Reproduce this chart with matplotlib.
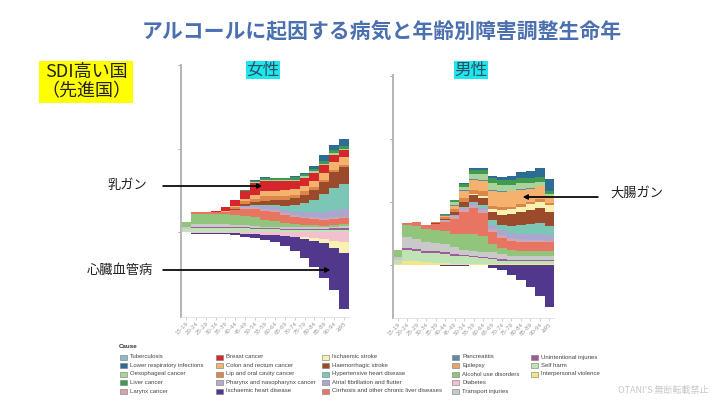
import numpy as np
import matplotlib
matplotlib.use("Agg")
import matplotlib.pyplot as plt
from matplotlib.patches import Rectangle

plt.rcParams["font.family"] = ["Noto Sans CJK JP", "DejaVu Sans"]

AGES = ["15-19", "20-24", "25-29", "30-34", "35-39", "40-44", "45-49", "50-54",
        "55-59", "60-64", "65-69", "70-74", "75-79", "80-84", "85-89", "90-94", "≥95"]

# legend order (column by column)
CAUSES = [
    "Tuberculosis", "Lower respiratory infections", "Oesophageal cancer", "Liver cancer", "Larynx cancer",
    "Breast cancer", "Colon and rectum cancer", "Lip and oral cavity cancer",
    "Pharynx and nasopharynx cancer", "Ischaemic heart disease",
    "Ischaemic stroke", "Haemorrhagic stroke", "Hypertensive heart disease",
    "Atrial fibrillation and flutter", "Cirrhosis and other chronic liver diseases",
    "Pancreatitis", "Epilepsy", "Alcohol use disorders", "Diabetes", "Transport injuries",
    "Unintentional injuries", "Self harm", "Interpersonal violence",
]
COLORS = [
    "#8fb9c9", "#2e6d93", "#a9d39a", "#3f9950", "#d9a2a7",
    "#d4262b", "#f5b26f", "#d9874b", "#b7abc9", "#51388c",
    "#f9f1b1", "#9b4a2b", "#7cc6b6", "#a9a6cf", "#e87561",
    "#5e8aa6", "#eca36b", "#90c57b", "#f2c0cf", "#c9c9c9",
    "#9c5c9c", "#c0e3b6", "#f3e58a",
]

# stacking order from the baseline upwards
POS_ORDER = ["Interpersonal violence", "Self harm", "Unintentional injuries", "Transport injuries",
             "Alcohol use disorders", "Cirrhosis and other chronic liver diseases", "Larynx cancer",
             "Pharynx and nasopharynx cancer", "Atrial fibrillation and flutter",
             "Hypertensive heart disease", "Haemorrhagic stroke", "Ischaemic stroke",
             "Lip and oral cavity cancer", "Colon and rectum cancer", "Breast cancer",
             "Pancreatitis", "Oesophageal cancer", "Liver cancer", "Lower respiratory infections"]
NEG_ORDER = ["Diabetes", "Ischaemic stroke", "Ischaemic heart disease"]

# women
w_interp = [.01, .01, .01, .01, .01, .01, .01, .01, .01, .01, .01, .01, .01, .01, .01, .01, .01]
w_selfharm = [.03, .04, .04, .04, .04, .04, .04, .03, .03, .03, .02, .02, .02, .02, .02, .02, .02]
w_unint = [0, .01, .01, .01, .01, .01, .01, .01, .01, .01, .01, .01, .01, .01, .01, .02, .02]
w_transport = [.03, .04, .04, .04, .04, .03, .03, .03, .02, .02, .02, .02, .02, .02, .02, .02, .03]
w_alcohol = [.05, .12, .12, .12, .12, .12, .11, .10, .08, .07, .05, .04, .03, .03, .02, .02, .02]
w_cirrhosis = [0, .02, .02, .02, .03, .06, .08, .10, .11, .11, .10, .09, .08, .07, .07, .07, .07]
w_larynx = [0, 0, 0, 0, 0, 0, .01, .01, .01, .01, .01, .01, .01, .01, .01, .01, .01]
w_pharynx = [0, 0, 0, 0, 0, 0, .01, .01, .01, .01, .01, .01, .01, .01, .01, .01, .01]
w_afib = [0, 0, 0, 0, 0, 0, .01, .02, .03, .03, .04, .04, .05, .06, .07, .09, .09]
w_hypert = [0, 0, 0, 0, 0, 0, 0, .01, .02, .03, .05, .08, .11, .15, .22, .26, .30]
w_haem = [0, 0, 0, 0, 0, .01, .03, .03, .05, .06, .07, .08, .10, .12, .14, .19, .20]
w_lip = [0, 0, 0, 0, 0, .02, .03, .04, .05, .05, .05, .04, .04, .03, .03, .03, .03]
w_colon = [0, 0, 0, 0, .01, .02, .03, .05, .06, .06, .07, .07, .07, .08, .08, .09, .09]
w_breast = [0, 0, 0, .02, .04, .07, .10, .14, .13, .12, .11, .10, .09, .09, .09, .09, .08]
w_oeso = [0, 0, 0, 0, 0, 0, 0, .01, .01, .01, .01, .01, .02, .02, .02, .02, .02]
w_liver = [0, 0, 0, 0, 0, 0, .01, .02, .02, .02, .02, .03, .03, .03, .03, .03, .03]
w_lri = [0, 0, 0, 0, 0, 0, 0, .01, .01, 0, 0, .01, .01, .03, .07, .07, .09]
w_diab = [0, .01, .01, .01, .01, .01, .02, .02, .03, .03, .04, .05, .06, .07, .08, .10, .12]
w_istroke = [0, 0, 0, 0, 0, 0, 0, 0, 0, 0, 0, .01, .02, .03, .05, .08, .13]
w_ihd = [0, .01, .01, .01, .01, .02, .03, .05, .06, .09, .12, .16, .22, .31, .41, .51, .67]

# men
m_interp = [.02, .07, .06, .05, .04, .03, .02, .02, .02, .01, .01, .01, .01, .01, .01, .01, .01]
m_selfharm = [.06, .17, .16, .15, .15, .15, .13, .12, .11, .10, .08, .06, .05, .05, .05, .05, .05]
m_unint = [0, .03, .03, .03, .03, .03, .03, .02, .02, .02, .02, .02, .02, .02, .02, .02, .02]
m_transport = [.05, .18, .16, .14, .13, .12, .10, .08, .08, .08, .10, .08, .07, .07, .07, .07, .07]
m_alcohol = [.11, .18, .21, .20, .20, .21, .22, .26, .27, .25, .13, .10, .09, .08, .08, .08, .08]
m_cirrhosis = [0, .04, .06, .06, .10, .15, .24, .35, .40, .36, .19, .16, .14, .13, .13, .13, .13]
m_larynx = [0, 0, 0, 0, 0, .01, .02, .02, .03, .03, .03, .03, .03, .03, .02, .02, .02]
m_pharynx = [0, 0, 0, 0, 0, .01, .02, .02, .03, .03, .02, .02, .02, .02, .02, .02, .01]
m_afib = [0, 0, 0, 0, 0, 0, .01, .02, .02, .03, .06, .07, .08, .09, .10, .10, .09]
m_hypert = [0, 0, 0, 0, 0, 0, .01, .02, .03, .04, .07, .09, .11, .13, .15, .17, .14]
m_haem = [0, 0, 0, .01, .02, .03, .05, .07, .10, .12, .13, .16, .19, .21, .22, .24, .22]
m_istroke = [0, 0, 0, 0, 0, 0, 0, .01, .02, .03, .05, .07, .08, .09, .10, .10, .12]
m_lip = [0, 0, 0, 0, .01, .02, .04, .06, .07, .07, .05, .05, .04, .04, .04, .04, .02]
m_colon = [0, 0, 0, 0, 0, .02, .05, .10, .15, .17, .24, .24, .24, .23, .20, .20, .10]
m_pancreat = [0, 0, 0, 0, 0, .01, .02, .02, .02, .02, .02, .02, .01, .01, .01, .01, .01]
m_oeso = [0, 0, 0, 0, 0, .01, .04, .05, .08, .08, .10, .10, .10, .09, .08, .06, .04]
m_liver = [0, 0, 0, 0, 0, .01, .03, .05, .06, .07, .08, .08, .08, .08, .08, .08, .04]
m_lri = [0, 0, 0, 0, 0, 0, .01, .02, .03, .03, .04, .04, .06, .10, .12, .14, .20]
m_ihd = [0, 0, 0, 0, 0, .01, .01, .01, 0, 0, .04, .08, .16, .23, .35, .49, .66]

women_pos = {
    "Interpersonal violence": w_interp, "Self harm": w_selfharm, "Unintentional injuries": w_unint,
    "Transport injuries": w_transport, "Alcohol use disorders": w_alcohol,
    "Cirrhosis and other chronic liver diseases": w_cirrhosis, "Larynx cancer": w_larynx,
    "Pharynx and nasopharynx cancer": w_pharynx, "Atrial fibrillation and flutter": w_afib,
    "Hypertensive heart disease": w_hypert, "Haemorrhagic stroke": w_haem,
    "Lip and oral cavity cancer": w_lip, "Colon and rectum cancer": w_colon,
    "Breast cancer": w_breast, "Oesophageal cancer": w_oeso, "Liver cancer": w_liver,
    "Lower respiratory infections": w_lri,
}
women_neg = {"Diabetes": w_diab, "Ischaemic stroke": w_istroke, "Ischaemic heart disease": w_ihd}
men_pos = {
    "Interpersonal violence": m_interp, "Self harm": m_selfharm, "Unintentional injuries": m_unint,
    "Transport injuries": m_transport, "Alcohol use disorders": m_alcohol,
    "Cirrhosis and other chronic liver diseases": m_cirrhosis, "Larynx cancer": m_larynx,
    "Pharynx and nasopharynx cancer": m_pharynx, "Atrial fibrillation and flutter": m_afib,
    "Hypertensive heart disease": m_hypert, "Haemorrhagic stroke": m_haem,
    "Ischaemic stroke": m_istroke, "Lip and oral cavity cancer": m_lip,
    "Colon and rectum cancer": m_colon, "Pancreatitis": m_pancreat,
    "Oesophageal cancer": m_oeso, "Liver cancer": m_liver, "Lower respiratory infections": m_lri,
}
men_neg = {"Ischaemic heart disease": m_ihd}

color_of = dict(zip(CAUSES, COLORS))
W, H = 720, 405

fig = plt.figure(figsize=(7.2, 4.05), dpi=100, facecolor="white")


def panel(rect, pos, neg, ylim, yticks):
    ax = fig.add_axes(rect)
    x = np.arange(len(AGES))
    cum = np.zeros(len(AGES))
    for name in POS_ORDER:
        if name in pos:
            v = np.array(pos[name])
            ax.bar(x, v, bottom=cum, width=1.0, align="edge", color=color_of[name], linewidth=0)
            cum += v
    cum = np.zeros(len(AGES))
    for name in NEG_ORDER:
        if name in neg:
            v = np.array(neg[name])
            ax.bar(x, -v, bottom=cum, width=1.0, align="edge", color=color_of[name], linewidth=0)
            cum -= v
    ax.set_xlim(0, len(AGES))
    ax.set_ylim(*ylim)
    ax.set_yticks(yticks)
    ax.set_yticklabels([])
    ax.set_xticks(x + 0.5)
    ax.set_xticklabels(AGES, rotation=45, ha="right", rotation_mode="anchor",
                       fontsize=4, color="#999999", family="DejaVu Sans")
    ax.tick_params(axis="x", length=2, width=0.5, color="#bbbbbb", pad=1)
    ax.tick_params(axis="y", length=2.5, width=0.6, color="#999999")
    for s in ("top", "right"):
        ax.spines[s].set_visible(False)
    ax.spines["left"].set_color("#b5b5b5")
    ax.spines["left"].set_linewidth(1.4)
    ax.spines["bottom"].set_color("#dddddd")
    ax.spines["bottom"].set_linewidth(0.6)
    ax.set_facecolor("white")
    return ax


def fr(x0, y0, x1, y1):
    return [x0 / W, 1 - y1 / H, (x1 - x0) / W, (y1 - y0) / H]


panel(fr(181, 65, 349, 317), women_pos, women_neg, (-1.01, 1.99), [0, 1, 2])
panel(fr(393, 75, 554, 318), men_pos, men_neg, (-0.84, 3.02), [0, 1, 2, 3])

# titles and labels
fig.text(382 / W, 1 - 31 / H, "アルコールに起因する病気と年齢別障害調整生命年",
         ha="center", va="center", fontsize=15, fontweight="bold", color="#4a70b0")
fig.text(86 / W, 1 - 82 / H, "SDI高い国\n（先進国）", ha="center", va="center",
         fontsize=13, color="#222222", linespacing=1.1,
         bbox=dict(boxstyle="square,pad=0.1", facecolor="#ffff00", edgecolor="none"))
for xc, label in [(263, "女性"), (471, "男性")]:
    fig.text(xc / W, 1 - 70 / H, label, ha="center", va="center", fontsize=12, color="#2f4f5f",
             bbox=dict(boxstyle="square,pad=0.05", facecolor="#1ee6ef", edgecolor="none"))

# annotations
arrow = dict(arrowstyle="-|>", color="black", lw=0.9, mutation_scale=7, shrinkA=0, shrinkB=0)
fig.text(127 / W, 1 - 186 / H, "乳ガン", ha="center", va="center", fontsize=9.5, color="#222222")
fig.add_artist(plt.annotate("", xy=(262, H - 186), xytext=(163, H - 186),
                            xycoords="figure pixels", textcoords="figure pixels", arrowprops=arrow))
fig.text(120 / W, 1 - 270 / H, "心臓血管病", ha="center", va="center", fontsize=9.5, color="#222222")
fig.add_artist(plt.annotate("", xy=(330, H - 270), xytext=(163, H - 270),
                            xycoords="figure pixels", textcoords="figure pixels", arrowprops=arrow))
fig.text(637 / W, 1 - 193 / H, "大腸ガン", ha="center", va="center", fontsize=9.5, color="#222222")
fig.add_artist(plt.annotate("", xy=(523, H - 197), xytext=(598, H - 197),
                            xycoords="figure pixels", textcoords="figure pixels", arrowprops=arrow))

# legend
fig.text(119 / W, 1 - 347 / H, "Cause", ha="left", va="center", fontsize=4.5,
         fontweight="bold", color="#333333", family="Liberation Sans")
col_x = [120, 216, 322, 452, 531]
row_y = [357, 365.5, 374, 382.5, 391]
for i, name in enumerate(CAUSES):
    cx, ry = col_x[i // 5], row_y[i % 5]
    fig.add_artist(Rectangle((cx / W, 1 - (ry + 2.5) / H), 7 / W, 5 / H,
                             transform=fig.transFigure, facecolor=color_of[name],
                             edgecolor="#777777", linewidth=0.4))
    fig.text((cx + 10) / W, 1 - ry / H, name, ha="left", va="center", fontsize=4.3,
             color="#444444", family="Liberation Sans")

fig.text(708 / W, 1 - 390 / H, "OTANI'S 無断転載禁止", ha="right", va="center",
         fontsize=6.5, color="#c8c8c8")

fig.savefig("out.png", dpi=100, facecolor="white")
print("saved: out.png")
